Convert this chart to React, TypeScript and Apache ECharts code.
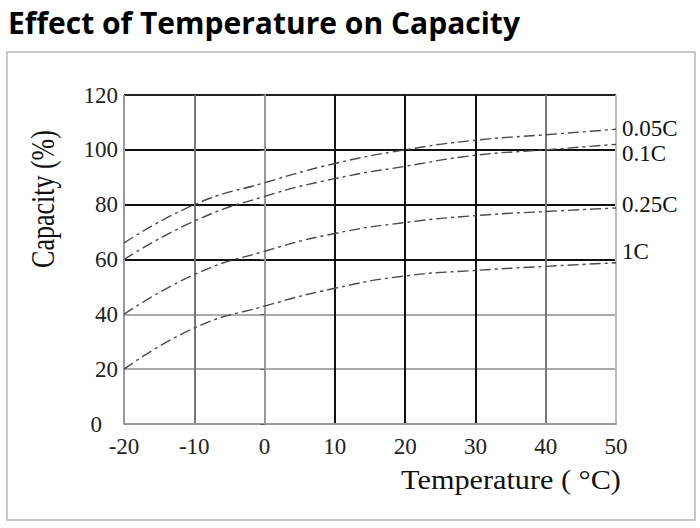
import React, { useEffect, useRef } from "react";
import * as echarts from "echarts";

const temperatures = [-20, -10, 0, 10, 20, 30, 40, 50];
const seriesNames = ["0.05C", "0.1C", "0.25C", "1C"];
const capacity005C = [66, 80, 88, 95, 100, 103.5, 105.5, 107.5];
const capacity01C = [60, 74, 83, 89.5, 94, 98, 100, 102];
const capacity025C = [40, 54.5, 63, 69.5, 73.5, 76, 77.5, 78.8];
const capacity1C = [20, 35, 43, 49.5, 54, 56, 57.5, 58.8];
const titleText = "Effect of Temperature on Capacity";
const xAxisTitle = "Temperature ( °C)";
const yAxisTitle = "Capacity (%)";

const seriesValues = [capacity005C, capacity01C, capacity025C, capacity1C];
const labelOffsets = [-1, 9, -3, -11];

export default function App() {
  const ref = useRef<HTMLDivElement>(null);
  useEffect(() => {
    if (!ref.current) return;
    const chart = echarts.init(ref.current, undefined, { renderer: "svg" });
    const serif = "Liberation Serif";
    chart.setOption({
      animation: false,
      backgroundColor: "#ffffff",
      grid: { left: 124, right: 84, top: 95, bottom: 104 },
      graphic: [
        {
          type: "rect",
          shape: { x: 7, y: 52, width: 688, height: 468 },
          style: { fill: "none", stroke: "#b8b8b8", lineWidth: 1.5 },
          silent: true,
        },
        {
          type: "text",
          left: 8,
          top: 7,
          style: {
            text: titleText,
            font: 'bold 30px "Open Sans"',
            fill: "#000",
          },
        },
        {
          type: "text",
          x: 511,
          y: 479,
          scaleX: 1.08,
          style: {
            text: xAxisTitle,
            font: `28px "${serif}"`,
            fill: "#111",
            align: "center",
            verticalAlign: "middle",
          },
        },
        {
          type: "text",
          x: 43,
          y: 199,
          rotation: Math.PI / 2,
          scaleY: 1.3,
          style: {
            text: yAxisTitle,
            font: `26px "${serif}"`,
            fill: "#111",
            align: "center",
            verticalAlign: "middle",
          },
        },
      ],
      xAxis: {
        type: "value",
        min: -20,
        max: 50,
        interval: 10,
        axisLine: { show: true, lineStyle: { color: "#999", width: 2 } },
        axisTick: { show: false },
        axisLabel: {
          color: "#222",
          fontFamily: serif,
          fontSize: 23,
          margin: 11,
        },
        splitLine: {
          show: true,
          lineStyle: {
            width: 2,
            color: ["#999", "#777", "#cfcfcf", "#111", "#111", "#111", "#777", "#bbb"],
          },
        },
      },
      yAxis: {
        type: "value",
        min: 0,
        max: 120,
        interval: 20,
        axisLine: { show: true, lineStyle: { color: "#999", width: 2 } },
        axisTick: { show: true, length: 4, lineStyle: { color: "#555" } },
        axisLabel: {
          color: "#222",
          fontFamily: serif,
          fontSize: 23,
          margin: 6,
          formatter: (v: number) => (v === 0 ? "{z|0}" : String(v)),
          rich: {
            z: {
              fontFamily: serif,
              fontSize: 23,
              color: "#222",
              padding: [0, 16, 0, 0],
            },
          },
        },
        splitLine: {
          show: true,
          lineStyle: {
            width: 2,
            color: ["#999", "#aaa", "#aaa", "#111", "#111", "#111", "#222"],
          },
        },
      },
      series: seriesValues.map((vals, i) => ({
        name: seriesNames[i],
        type: "line",
        smooth: true,
        symbol: "none",
        data: temperatures.map((t, j) => [t, vals[j]]),
        lineStyle: { color: "#4a4a4a", width: 1.4, type: [11, 4, 3, 4] },
        endLabel: {
          show: true,
          formatter: seriesNames[i],
          fontFamily: serif,
          fontSize: 23,
          lineHeight: 22,
          color: "#111",
          distance: 6,
          offset: [0, labelOffsets[i]],
        },
      })),
    });
    return () => chart.dispose();
  }, []);
  return (
    <div
      ref={ref}
      style={{ position: "fixed", left: 0, top: 0, width: 700, height: 528 }}
    />
  );
}
